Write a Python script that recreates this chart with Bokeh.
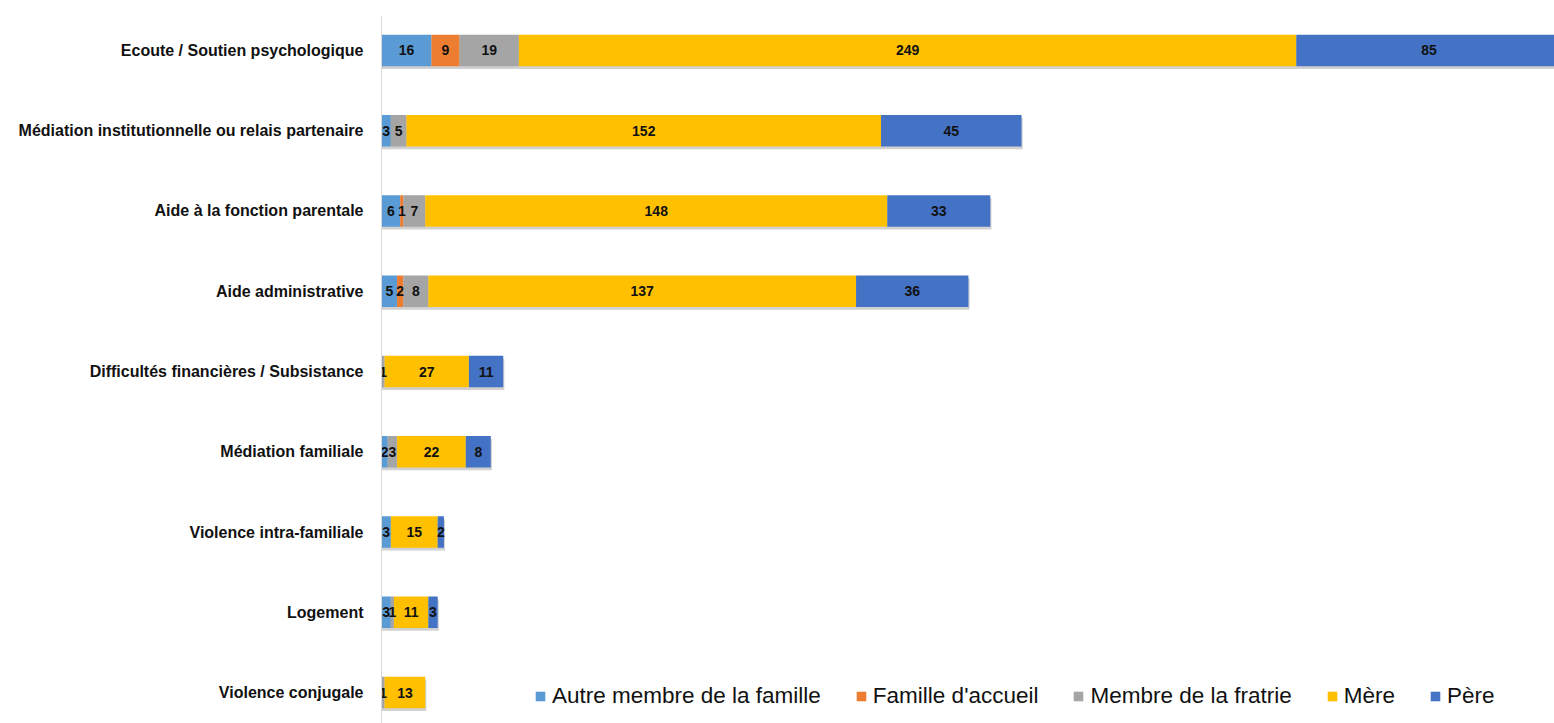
import numpy as np
from bokeh.plotting import figure
from bokeh.models import Range1d, FixedTicker, ColumnDataSource, Legend, LegendItem
from bokeh.core.properties import value
from bokeh.embed import file_html
from bokeh.resources import INLINE

categories = [
    "Ecoute / Soutien psychologique",
    "Médiation institutionnelle ou relais partenaire",
    "Aide à la fonction parentale",
    "Aide administrative",
    "Difficultés financières / Subsistance",
    "Médiation familiale",
    "Violence intra-familiale",
    "Logement",
    "Violence conjugale",
]
series_names = ["Autre membre de la famille", "Famille d'accueil", "Membre de la fratrie", "Mère", "Père"]
autre = [16, 3, 6, 5, 0, 2, 3, 3, 0]
famille = [9, 0, 1, 2, 0, 0, 0, 0, 0]
fratrie = [19, 5, 7, 8, 1, 3, 0, 1, 1]
mere = [249, 152, 148, 137, 27, 22, 15, 11, 13]
pere = [85, 45, 33, 36, 11, 8, 2, 3, 0]
colors = ["#5B9BD5", "#ED7D31", "#A5A5A5", "#FFC000", "#4472C4"]

series_values = [autre, famille, fratrie, mere, pere]
ypos = np.arange(len(categories))

p = figure(
    width=1554, height=723,
    x_range=Range1d(0, 375.7), y_range=Range1d(8.386, -0.436),
    x_axis_location=None, output_backend="svg", toolbar_location=None,
    min_border_left=381, min_border_right=0, min_border_top=15, min_border_bottom=0,
)
p.outline_line_color = None
p.xgrid.visible = False
p.ygrid.visible = False

BAR_H = 0.39
totals = np.sum(np.array(series_values), axis=0)

# subtle drop shadow under each bar
p.hbar(y=ypos + 0.035, left=0, right=totals + 0.35, height=BAR_H,
       fill_color="#9a9a9a", fill_alpha=0.45, line_color=None)

left = np.zeros(len(categories))
items = []
lab_x, lab_y, lab_t = [], [], []
for name, vals, col in zip(series_names, series_values, colors):
    vals = np.array(vals, dtype=float)
    right = left + vals
    src = ColumnDataSource(dict(y=ypos, left=left, right=right))
    r = p.hbar(y="y", left="left", right="right", height=BAR_H, source=src,
               fill_color=col, line_color=None)
    items.append(LegendItem(label=name, renderers=[r]))
    for i, v in enumerate(vals):
        if v > 0:
            lab_x.append(left[i] + v / 2)
            lab_y.append(ypos[i])
            lab_t.append(str(int(v)))
    left = right

lsrc = ColumnDataSource(dict(x=lab_x, y=lab_y, t=lab_t))
p.text(x="x", y="y", text="t", source=lsrc, text_align="center", text_baseline="middle",
       text_font=value("Liberation Sans"), text_font_style="bold",
       text_font_size="14px", text_color="#111111")

yax = p.yaxis[0]
yax.ticker = FixedTicker(ticks=list(range(len(categories))))
yax.major_label_overrides = {i: c for i, c in enumerate(categories)}
yax.axis_line_color = "#d9d9d9"
yax.axis_line_width = 1
yax.major_tick_line_color = None
yax.minor_tick_line_color = None
yax.major_label_standoff = 12
yax.major_label_text_font = "Liberation Sans"
yax.major_label_text_font_style = "bold"
yax.major_label_text_font_size = "16px"
yax.major_label_text_color = "#111111"

legend = Legend(items=items, orientation="horizontal", location=(153, 14),
                glyph_width=12, glyph_height=12, label_standoff=6, spacing=34,
                padding=0, margin=0, border_line_color=None, background_fill_alpha=0,
                label_text_font="Liberation Sans", label_text_font_size="22.5px",
                label_text_color="#111111")
p.add_layout(legend)

open("out.html", "w").write(file_html(p, INLINE))
